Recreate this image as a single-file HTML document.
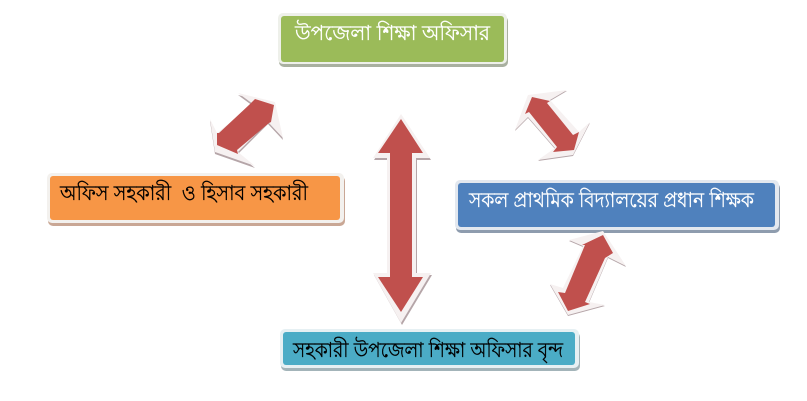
<!DOCTYPE html>
<html><head><meta charset="utf-8"><style>
html,body{margin:0;padding:0;background:#fff}
svg{display:block}
text{font-family:"Lohit Bengali","Noto Sans Bengali","Vrinda","Liberation Sans","DejaVu Sans",sans-serif;font-size:21px;white-space:pre;stroke-width:.25px}
.o{fill:#f6f1f1}.s{fill:#b5a5a8}.r{fill:#c0504d}
</style></head><body>
<svg width="807" height="401" viewBox="0 0 807 401" xmlns="http://www.w3.org/2000/svg">
<rect width="807" height="401" fill="#fff"/>

<!-- green box -->
<rect x="279" y="16" width="229" height="51" rx="5" fill="#a9b0a0"/>
<rect x="278" y="13" width="229" height="51" rx="5" fill="#eef0ea"/>
<rect x="281" y="16" width="223" height="46" rx="3" fill="#9bbb59"/>
<text x="295" y="40" textLength="195" lengthAdjust="spacingAndGlyphs" fill="#fff" stroke="#fff">উপজেলা শিক্ষা অফিসার</text>

<!-- orange box -->
<rect x="48" y="176" width="297" height="50" rx="5" fill="#c9a795"/>
<rect x="47" y="173" width="297" height="50" rx="5" fill="#f3f1ee"/>
<rect x="50" y="176" width="290" height="44" rx="3" fill="#f79646"/>
<text x="60" y="200" textLength="248" lengthAdjust="spacingAndGlyphs" fill="#000" stroke="#000" xml:space="preserve">অফিস সহকারী  ও হিসাব সহকারী</text>

<!-- blue box -->
<rect x="456" y="183" width="324" height="50" rx="5" fill="#8e9cae"/>
<rect x="455" y="180" width="324" height="50" rx="5" fill="#e3e8ef"/>
<rect x="458" y="183" width="317" height="44" rx="3" fill="#4f81bd"/>
<text x="469" y="207" textLength="285" lengthAdjust="spacingAndGlyphs" fill="#fff" stroke="#fff">সকল প্রাথমিক বিদ্যালয়ের প্রধান শিক্ষক</text>

<!-- teal box -->
<rect x="281" y="332" width="299" height="39" rx="5" fill="#a3b4b9"/>
<rect x="280" y="329" width="299" height="39" rx="5" fill="#e6f0f3"/>
<rect x="283" y="332" width="292" height="33" rx="3" fill="#4bacc6"/>
<text x="293" y="357" textLength="270" lengthAdjust="spacingAndGlyphs" fill="#000" stroke="#000">সহকারী উপজেলা শিক্ষা অফিসার বৃন্দ</text>

<!-- vertical arrow -->
<polygon class="s" points="401,114 430,158 416,158 416,273 431,273 401,323 373,273 387,273 387,158 373,158" transform="translate(1,2)"/>
<polygon class="o" points="401,114 430,158 416,158 416,273 431,273 401,323 373,273 387,273 387,158 373,158"/>
<polygon class="r" points="401,119 423,153 412,153 412,277 423,277 401,312 378,277 390,277 390,153 378,153"/>

<!-- top-left arrow -->
<polygon class="s" points="275,102 238,93 253,104 217,133 210,119 215,152 255,166 238,152 268,122 283,138" transform="translate(0,2)"/>
<polygon class="o" points="275,102 238,93 253,104 217,133 210,119 215,152 255,166 238,152 268,122 283,138"/>
<polygon class="r" points="274,105 255,99 249,105 219,133 217,133 217,145 238,154 237,150 269,123 271,122"/>

<!-- top-right arrow -->
<polygon class="s" points="528,95 567,90 550,100 579,132 590,122 573,155 538,160 555,148 528,117 515,130" transform="translate(0,1)"/>
<polygon class="o" points="528,95 567,90 550,100 579,132 590,122 573,155 538,160 555,148 528,117 515,130"/>
<polygon class="r" points="532,97 550,101 547,103 573,135 579,132 574,150 553,152 557,147 529,112 525,114"/>

<!-- bottom-right arrow -->
<polygon class="s" points="603,231 569,240 583,246 563,288 550,284 568,315 605,305 589,302 608,257 626,266" transform="translate(0,1)"/>
<polygon class="o" points="603,231 569,240 583,246 563,288 550,284 568,315 605,305 589,302 608,257 626,266"/>
<polygon class="r" points="603,235 582,245 585,245 565,293 558,292 568,311 590,304 585,302 605,258 613,253"/>
</svg>
</body></html>
